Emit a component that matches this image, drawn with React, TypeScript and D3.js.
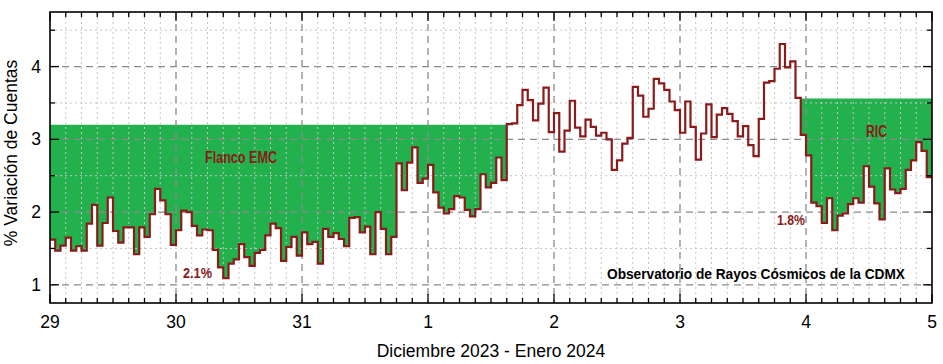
import React from 'react'
import * as d3 from 'd3'

// hourly % count variation, one array per day (24 values each)
const dec29 = [1.62, 1.47, 1.54, 1.65, 1.47, 1.53, 1.47, 1.84, 2.10, 1.54, 1.85, 2.20, 1.74, 1.58, 1.79, 1.79, 1.42, 1.79, 1.66, 1.97, 2.32, 2.16, 1.97, 1.55]
const dec30 = [1.75, 2.02, 2.00, 1.81, 1.68, 1.76, 1.75, 1.48, 1.24, 1.09, 1.29, 1.35, 1.56, 1.38, 1.26, 1.44, 1.48, 1.68, 1.84, 1.78, 1.33, 1.52, 1.66, 1.40]
const dec31 = [1.72, 1.56, 1.59, 1.29, 1.77, 1.66, 1.71, 1.63, 1.53, 1.92, 1.93, 1.72, 1.80, 1.42, 2.00, 1.77, 1.42, 1.66, 2.67, 2.30, 2.68, 2.89, 2.40, 2.46]
const jan1 = [2.65, 2.27, 2.06, 1.98, 2.04, 2.22, 2.20, 2.03, 1.94, 2.04, 2.52, 2.34, 2.40, 2.75, 2.44, 3.21, 3.22, 3.47, 3.68, 3.54, 3.26, 3.49, 3.71, 3.10]
const jan2 = [3.36, 2.83, 3.12, 3.53, 3.16, 3.04, 3.27, 3.17, 3.05, 3.09, 3.00, 2.58, 2.71, 2.94, 3.02, 3.72, 3.60, 3.31, 3.42, 3.83, 3.77, 3.68, 3.52, 3.40]
const jan3 = [3.09, 3.52, 3.17, 2.72, 3.08, 3.48, 3.03, 3.34, 3.43, 3.35, 3.25, 3.04, 3.18, 2.92, 2.77, 3.28, 3.78, 3.80, 3.97, 4.31, 3.99, 4.07, 3.57, 3.06]
const jan4 = [2.78, 2.13, 2.08, 1.85, 2.19, 1.75, 1.95, 1.98, 2.11, 2.19, 2.13, 2.63, 2.35, 2.12, 1.90, 2.60, 2.31, 2.26, 2.32, 2.58, 2.71, 2.96, 2.84, 2.48]

const dayLabels = ['29', '30', '31', '1', '2', '3', '4', '5']
const yTicks = [1, 2, 3, 4]
const yMinor = [1.5, 2.5, 3.5, 4.5]

// Forbush decrease phases: shaded up to the pre-event level
const emcLevel = 3.2
const emcRange = [0, 87] // hour indices
const ricLevel = 3.56
const ricRange = [143, 168]

const W = 943
const H = 364
const margin = { top: 12, right: 11, bottom: 61, left: 50 }

const red = '#8b1a1a'
const green = '#22b14c'
const sans = '"Liberation Sans", Arial, sans-serif'
const narrow = '"Liberation Sans Narrow", "Arial Narrow", "Liberation Sans", Arial, sans-serif'

type Pt = { t: Date; v: number }

export default function App() {
  const values = [...dec29, ...dec30, ...dec31, ...jan1, ...jan2, ...jan3, ...jan4]
  const t0 = Date.UTC(2023, 11, 29)
  const hour = 3600 * 1000
  const tEnd = new Date(t0 + values.length * hour)

  const left = margin.left
  const right = W - margin.right
  const top = margin.top
  const bottom = H - margin.bottom

  const x = d3.scaleUtc().domain([new Date(t0), tEnd]).range([left, right])
  const y = d3.scaleLinear().domain([0.75, 4.75]).range([bottom, top])

  const pts: Pt[] = values.map((v, i) => ({ t: new Date(t0 + i * hour), v }))
  pts.push({ t: tEnd, v: values[values.length - 1] })

  const line = d3.line<Pt>()
    .x(d => x(d.t))
    .y(d => y(d.v))
    .curve(d3.curveStepAfter)

  const band = (level: number) => d3.area<Pt>()
    .x(d => x(d.t))
    .y0(y(level))
    .y1(d => y(Math.min(d.v, level)))
    .curve(d3.curveStepAfter)

  const emcPath = band(emcLevel)(pts.slice(emcRange[0], emcRange[1] + 1))
  const ricPath = band(ricLevel)(pts.slice(ricRange[0], ricRange[1] + 1))

  const days = d3.utcDay.range(new Date(t0), new Date(tEnd.getTime() + 1))
  const threeHours = d3.utcHour.every(3)!.range(new Date(t0), tEnd)
    .filter(d => d.getUTCHours() !== 0)

  return (
    <svg width={W} height={H} style={{ position: 'absolute', left: 0, top: 0, background: '#fff' }}>
      <rect x={0} y={0} width={W} height={H} fill="#fff" />

      {/* shaded phases */}
      <path d={emcPath!} fill={green} />
      <path d={ricPath!} fill={green} />

      {/* minor grid */}
      <g stroke="#c4c4c4" strokeWidth={1} strokeDasharray="2,3">
        {threeHours.map((d, i) => (
          <line key={'mx' + i} x1={x(d)} x2={x(d)} y1={top} y2={bottom} />
        ))}
        {yMinor.map(v => (
          <line key={'my' + v} x1={left} x2={right} y1={y(v)} y2={y(v)} />
        ))}
      </g>

      {/* major grid */}
      <g stroke="#8a8a8a" strokeWidth={1.3} strokeDasharray="7,5">
        {days.slice(1, -1).map((d, i) => (
          <line key={'gx' + i} x1={x(d)} x2={x(d)} y1={top} y2={bottom} />
        ))}
        {yTicks.map(v => (
          <line key={'gy' + v} x1={left} x2={right} y1={y(v)} y2={y(v)} />
        ))}
      </g>

      {/* data */}
      <path d={line(pts)!} fill="none" stroke={red} strokeWidth={2.2} strokeLinejoin="miter" />

      {/* ticks */}
      <g stroke="#000" strokeWidth={1.3}>
        {threeHours.map((d, i) => (
          <g key={'tx' + i}>
            <line x1={x(d)} x2={x(d)} y1={bottom} y2={bottom - 5} />
            <line x1={x(d)} x2={x(d)} y1={top} y2={top + 5} />
          </g>
        ))}
        {days.map((d, i) => (
          <g key={'tdx' + i}>
            <line x1={x(d)} x2={x(d)} y1={bottom} y2={bottom - 9} />
            <line x1={x(d)} x2={x(d)} y1={top} y2={top + 9} />
          </g>
        ))}
        {yTicks.map(v => (
          <g key={'ty' + v}>
            <line x1={left} x2={left + 9} y1={y(v)} y2={y(v)} />
            <line x1={right} x2={right - 9} y1={y(v)} y2={y(v)} />
          </g>
        ))}
        {yMinor.map(v => (
          <g key={'tym' + v}>
            <line x1={left} x2={left + 5} y1={y(v)} y2={y(v)} />
            <line x1={right} x2={right - 5} y1={y(v)} y2={y(v)} />
          </g>
        ))}
      </g>

      <rect x={left} y={top} width={right - left} height={bottom - top} fill="none" stroke="#000" strokeWidth={1.6} />

      {/* tick labels */}
      <g fontFamily={sans} fontSize={17.5} fill="#000">
        {days.map((d, i) => (
          <text key={'lx' + i} x={x(d)} y={328} textAnchor="middle">{dayLabels[i]}</text>
        ))}
        {yTicks.map(v => (
          <text key={'ly' + v} x={41} y={y(v) + 6} textAnchor="end">{v}</text>
        ))}
      </g>

      {/* axis titles */}
      <text x={491} y={357} textAnchor="middle" fontFamily={sans} fontSize={17.5} fill="#000">
        Diciembre 2023 - Enero 2024
      </text>
      <text transform="translate(17,153) rotate(-90)" textAnchor="middle" fontFamily={sans} fontSize={17.5} fill="#000">
        % Variación de Cuentas
      </text>

      {/* annotations */}
      <g fontFamily={narrow} fontWeight="bold" fill={red}>
        <text x={205} y={163} fontSize={16} textLength={72} lengthAdjust="spacingAndGlyphs">Flanco EMC</text>
        <text x={183} y={278} fontSize={15} textLength={29} lengthAdjust="spacingAndGlyphs">2.1%</text>
        <text x={866} y={137} fontSize={16} textLength={21} lengthAdjust="spacingAndGlyphs">RIC</text>
        <text x={777} y={225} fontSize={15} textLength={28} lengthAdjust="spacingAndGlyphs">1.8%</text>
      </g>
      <text x={607} y={279} fontFamily={sans} fontWeight="bold" fontSize={14} fill="#000"
        textLength={298} lengthAdjust="spacingAndGlyphs">
        Observatorio de Rayos Cósmicos de la CDMX
      </text>
    </svg>
  )
}
